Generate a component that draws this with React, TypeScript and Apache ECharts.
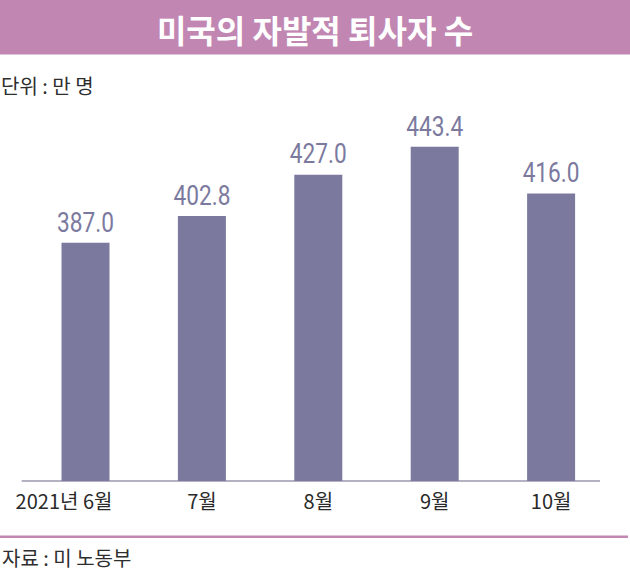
import React, { useEffect, useRef } from "react";
import * as echarts from "echarts";

const categories = ["2021년 6월", "7월", "8월", "9월", "10월"];
const values = [387.0, 402.8, 427.0, 443.4, 416.0];
const titleText = "미국의 자발적 퇴사자 수";
const unitText = "단위 : 만 명";
const sourceText = "자료 : 미 노동부";

const PINK = "#c187b2";
const BAR = "#7b7a9e";
const KR = "'Noto Sans CJK KR', sans-serif";
const NARROW = "'Liberation Sans Narrow', 'Noto Sans CJK KR', sans-serif";

export default function App() {
  const ref = useRef<HTMLDivElement>(null);
  useEffect(() => {
    if (!ref.current) return;
    const chart = echarts.init(ref.current, null, { renderer: "svg" });
    chart.setOption({
      animation: false,
      backgroundColor: "#ffffff",
      grid: { left: 27.3, right: 20.7, top: 118.6, bottom: 102, containLabel: false },
      xAxis: {
        type: "category",
        data: categories.map((c, i) =>
          i === 0 ? { value: c, textStyle: { padding: [0, 43, 0, 0] } } : c
        ),
        axisLine: { show: false },
        axisTick: { show: false },
        axisLabel: {
          color: "#2a2a2a",
          fontSize: 20,
          fontFamily: NARROW,
          margin: 9,
          interval: 0,
        },
      },
      yAxis: {
        type: "value",
        min: 247,
        max: 460,
        show: false,
        splitLine: { show: false },
      },
      series: [
        {
          type: "bar",
          data: values,
          barWidth: 48,
          itemStyle: { color: BAR },
        },
        {
          type: "custom",
          data: values.map((v, i) => [i, v]),
          z: 5,
          renderItem: (params: any, api: any) => {
            const v = api.value(1);
            const p = api.coord([api.value(0), v]);
            return {
              type: "text",
              x: p[0],
              y: p[1] - 7,
              scaleX: 0.84,
              style: {
                text: Number(v).toFixed(1),
                fill: BAR,
                font: "27px Roboto, sans-serif",
                textAlign: "center",
                textVerticalAlign: "bottom",
              },
            };
          },
        },
      ],
      graphic: [
        { type: "rect", shape: { x: 0, y: 0, width: 630, height: 54.5 }, style: { fill: PINK }, silent: true },
        {
          type: "text",
          x: 315,
          y: 29,
          style: {
            text: titleText,
            fill: "#ffffff",
            font: `bold 32px ${KR}`,
            textAlign: "center",
            textVerticalAlign: "middle",
          },
        },
        {
          type: "text",
          x: 1,
          y: 85,
          style: { text: unitText, fill: "#2e2e2e", font: `20px ${KR}`, textAlign: "left", textVerticalAlign: "middle" },
        },
        {
          type: "line",
          shape: { x1: 21.7, y1: 481, x2: 600, y2: 481 },
          style: { stroke: "#9a97ae", lineWidth: 1.5 },
        },
        {
          type: "line",
          shape: { x1: 0, y1: 536.7, x2: 628, y2: 536.7 },
          style: { stroke: PINK, lineWidth: 2.5 },
        },
        {
          type: "text",
          x: 2,
          y: 557,
          style: { text: sourceText, fill: "#2e2e2e", font: `20px ${KR}`, textAlign: "left", textVerticalAlign: "middle" },
        },
      ],
    });
    return () => chart.dispose();
  }, []);
  return (
    <div
      ref={ref}
      style={{ position: "fixed", left: 0, top: 0, width: 630, height: 583 }}
    />
  );
}
